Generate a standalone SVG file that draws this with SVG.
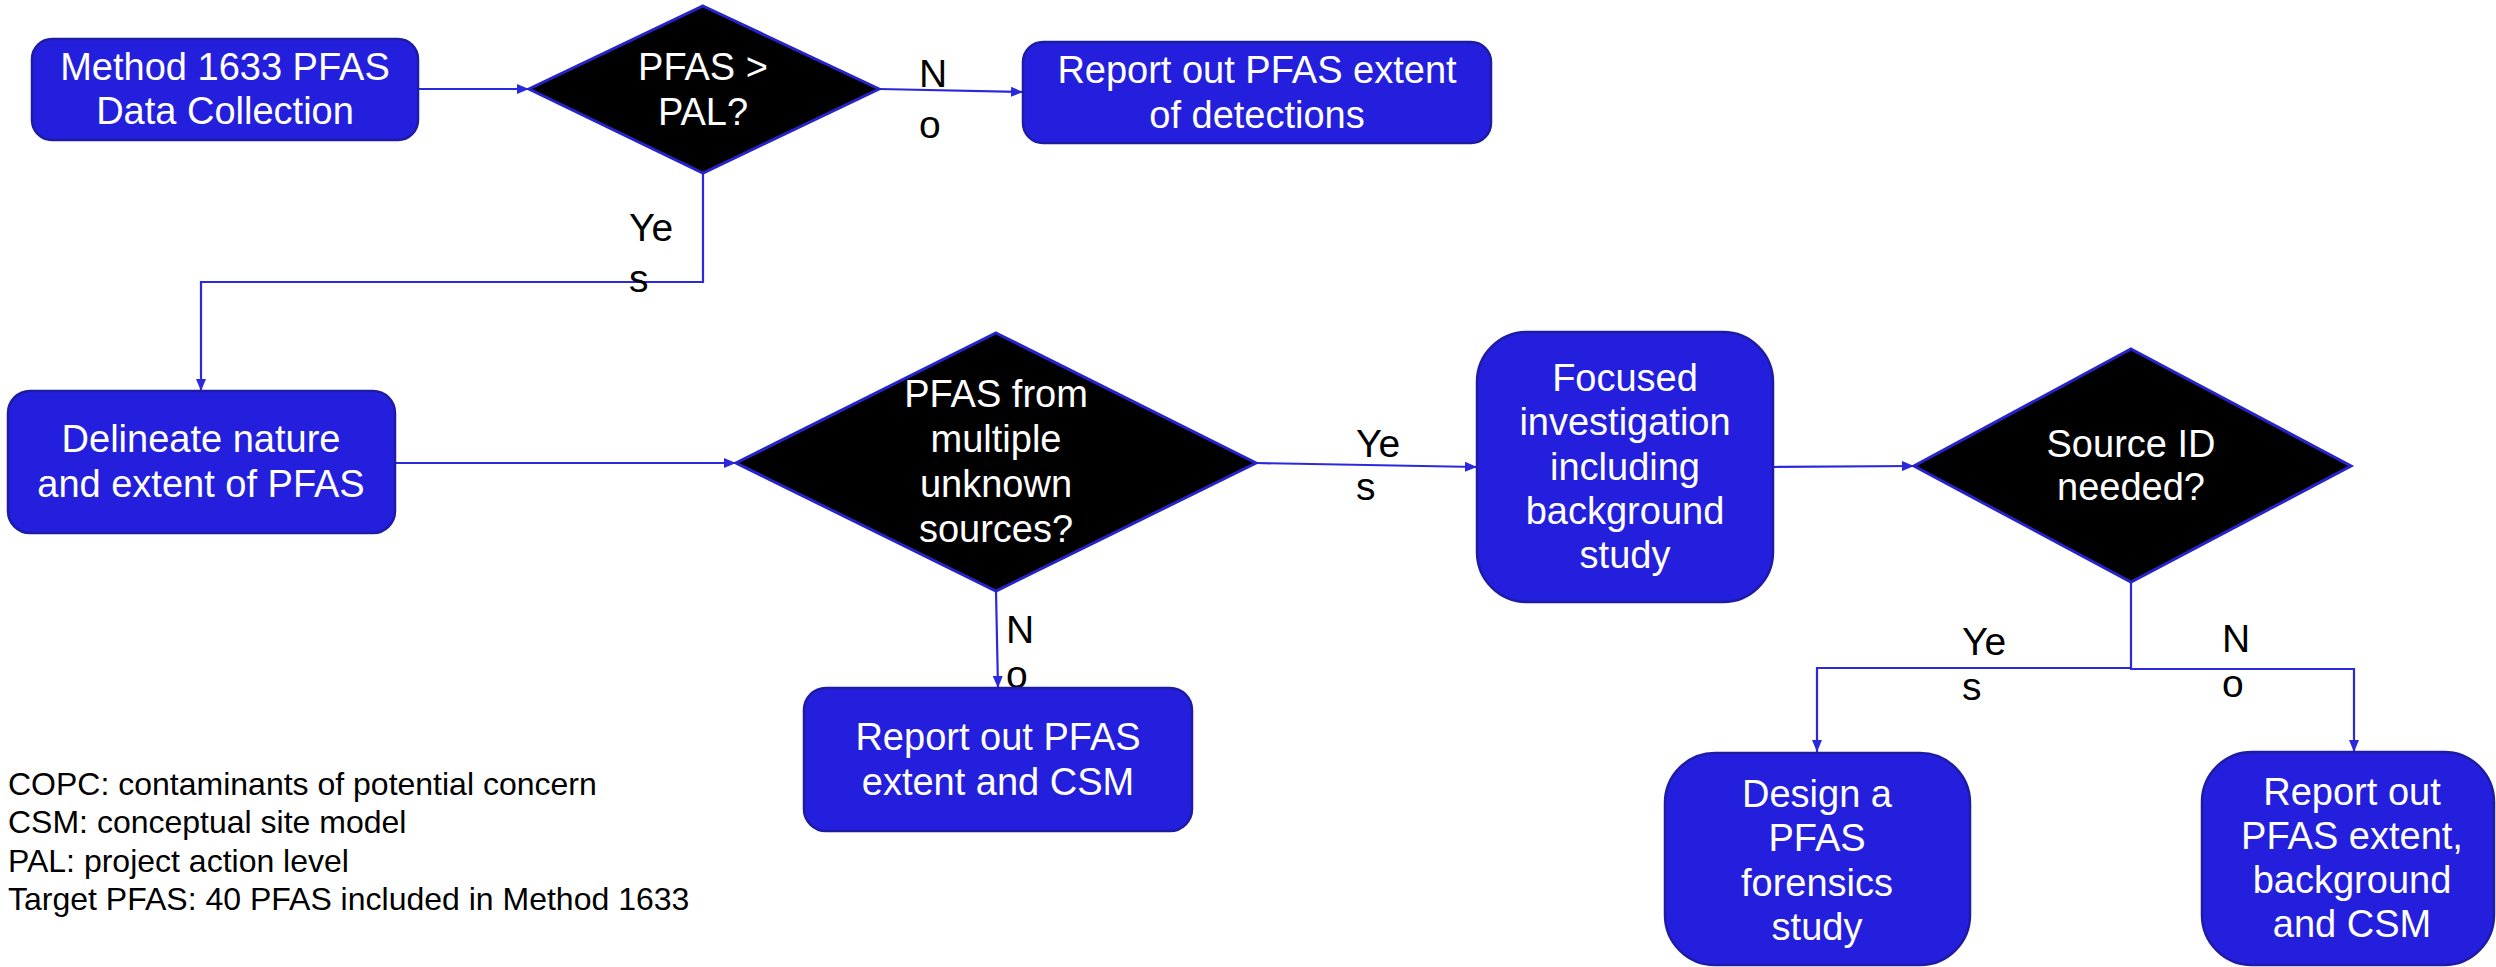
<svg xmlns="http://www.w3.org/2000/svg" width="2496" height="967" viewBox="0 0 2496 967">
<defs>
<marker id="arr" viewBox="0 0 12 10" refX="12" refY="5" markerWidth="12" markerHeight="10" markerUnits="userSpaceOnUse" orient="auto">
<path d="M0,0 L12,5 L0,10 z" fill="#2b29dc"/>
</marker>
</defs>
<style>
.box{fill:#241fdc;stroke:#1e1ba6;stroke-width:2.5}
.dia{fill:#000;stroke:#2624c8;stroke-width:3}
.t{font-family:"Liberation Sans",Arial,sans-serif;font-size:38px;fill:#fff;text-anchor:middle}
.lbl{font-family:"Liberation Sans",Arial,sans-serif;font-size:39px;fill:#000}
.leg{font-family:"Liberation Sans",Arial,sans-serif;font-size:32px;fill:#000}
.c{fill:none;stroke:#2b29dc;stroke-width:2.2}
</style>
<rect width="2496" height="967" fill="#fff"/>
<g id="connectors">
<path class="c" d="M419,89 L529,89" marker-end="url(#arr)"/>
<path class="c" d="M879,89 L1023,92" marker-end="url(#arr)"/>
<path class="c" d="M703,173 L703,282 L201,282 L201,391" marker-end="url(#arr)"/>
<path class="c" d="M395,463 L736,463" marker-end="url(#arr)"/>
<path class="c" d="M996,591 L998,688" marker-end="url(#arr)"/>
<path class="c" d="M1256,463 L1477,467" marker-end="url(#arr)"/>
<path class="c" d="M1773,467 L1914,466" marker-end="url(#arr)"/>
<path class="c" d="M2131,582 L2131,668 L1817,668 L1817,752" marker-end="url(#arr)"/>
<path class="c" d="M2131,668 L2131,669 L2354,669 L2354,752" marker-end="url(#arr)"/>
<text class="lbl" x="919" y="87" font-size="42">N</text>
<text class="lbl" x="919" y="138" font-size="42">o</text>
<text class="lbl" x="629" y="241" font-size="42">Ye</text>
<text class="lbl" x="629" y="292" font-size="42">s</text>
<text class="lbl" x="1006" y="643">N</text>
<text class="lbl" x="1006" y="688">o</text>
<text class="lbl" x="1356" y="457">Ye</text>
<text class="lbl" x="1356" y="500">s</text>
<text class="lbl" x="1962" y="655">Ye</text>
<text class="lbl" x="1962" y="700">s</text>
<text class="lbl" x="2222" y="652">N</text>
<text class="lbl" x="2222" y="697">o</text>
</g>
<g id="n1">
<rect class="box" x="32" y="39" width="386" height="101" rx="20"/>
<text class="t" x="225" y="80">Method 1633 PFAS</text>
<text class="t" x="225" y="124">Data Collection</text>
</g>
<g id="d1">
<polygon class="dia" points="703,6 879,89 703,173 529,89"/>
<text class="t" x="703" y="80">PFAS &gt;</text>
<text class="t" x="703" y="125">PAL?</text>
</g>
<g id="r1">
<rect class="box" x="1023" y="42" width="468" height="101" rx="20"/>
<text class="t" x="1257" y="83">Report out PFAS extent</text>
<text class="t" x="1257" y="128">of detections</text>
</g>
<g id="n2">
<rect class="box" x="8" y="391" width="387" height="142" rx="22"/>
<text class="t" x="201" y="452">Delineate nature</text>
<text class="t" x="201" y="497">and extent of PFAS</text>
</g>
<g id="d2">
<polygon class="dia" points="996,333 1256,463 996,591 736,463"/>
<text class="t" x="996" y="407">PFAS from</text>
<text class="t" x="996" y="452">multiple</text>
<text class="t" x="996" y="497">unknown</text>
<text class="t" x="996" y="542">sources?</text>
</g>
<g id="n3">
<rect class="box" x="804" y="688" width="388" height="143" rx="22"/>
<text class="t" x="998" y="750">Report out PFAS</text>
<text class="t" x="998" y="795">extent and CSM</text>
</g>
<g id="n4">
<rect class="box" x="1477" y="332" width="296" height="270" rx="50"/>
<text class="t" x="1625" y="391">Focused</text>
<text class="t" x="1625" y="435">investigation</text>
<text class="t" x="1625" y="480">including</text>
<text class="t" x="1625" y="524">background</text>
<text class="t" x="1625" y="568">study</text>
</g>
<g id="d3">
<polygon class="dia" points="2131,349 2351,466 2131,582 1914,466"/>
<text class="t" x="2131" y="457">Source ID</text>
<text class="t" x="2131" y="500">needed?</text>
</g>
<g id="n5">
<rect class="box" x="1665" y="753" width="305" height="212" rx="50"/>
<text class="t" x="1817" y="807">Design a</text>
<text class="t" x="1817" y="851">PFAS</text>
<text class="t" x="1817" y="896">forensics</text>
<text class="t" x="1817" y="940">study</text>
</g>
<g id="n6">
<rect class="box" x="2202" y="752" width="292" height="213" rx="50"/>
<text class="t" x="2352" y="805">Report out</text>
<text class="t" x="2352" y="849">PFAS extent,</text>
<text class="t" x="2352" y="893">background</text>
<text class="t" x="2352" y="937">and CSM</text>
</g>
<g id="legend">
<text class="leg" x="8" y="795">COPC: contaminants of potential concern</text>
<text class="leg" x="8" y="833">CSM: conceptual site model</text>
<text class="leg" x="8" y="872">PAL: project action level</text>
<text class="leg" x="8" y="910">Target PFAS: 40 PFAS included in Method 1633</text>
</g>
</svg>
